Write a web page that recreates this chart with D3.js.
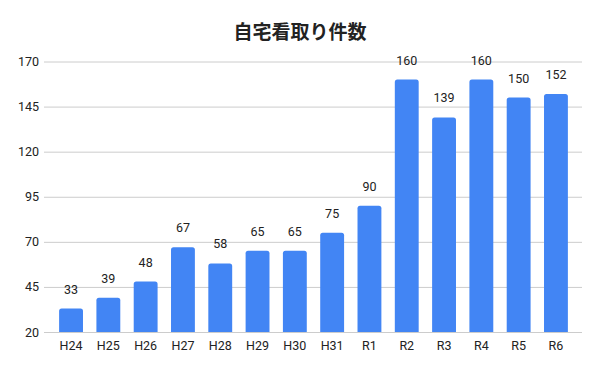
<!DOCTYPE html>
<html>
<head>
<meta charset="utf-8">
<script src="https://cdn.jsdelivr.net/npm/d3@7"></script>
<style>
  body { margin: 0; background: #fff; }
  text { font-family: Roboto, "Noto Sans", sans-serif; }
</style>
</head>
<body>
<script>
// data
var categories = ["H24", "H25", "H26", "H27", "H28", "H29", "H30", "H31", "R1", "R2", "R3", "R4", "R5", "R6"];
var values = [33, 39, 48, 67, 58, 65, 65, 75, 90, 160, 139, 160, 150, 152];
var yTicks = [20, 45, 70, 95, 120, 145, 170];
var title = "自宅看取り件数";

var width = 600, height = 371;
var plot = {left: 44, right: 582, top: 61.5, bottom: 332};

var svg = d3.select("body").append("svg")
    .attr("width", width)
    .attr("height", height);

// scales
var x = d3.scaleBand()
    .domain(categories)
    .range([52.4, 574.6])
    .paddingInner(0.36)
    .paddingOuter(0.18);

var y = d3.scaleLinear()
    .domain([20, 170])
    .range([plot.bottom, plot.top]);

// title
svg.append("text")
    .attr("x", 300)
    .attr("y", 39)
    .attr("text-anchor", "middle")
    .style("font-family", "'Noto Sans CJK JP', sans-serif")
    .style("font-size", "19px")
    .style("font-weight", "bold")
    .style("fill", "#222")
    .text(title);

// gridlines + y labels
var yAxis = svg.append("g")
    .attr("transform", "translate(" + plot.left + ",0)")
    .call(d3.axisLeft(y).tickValues(yTicks).tickSize(-(plot.right - plot.left)).tickPadding(5));
yAxis.select(".domain").remove();
yAxis.selectAll(".tick line").attr("stroke", "#ccc");
yAxis.selectAll(".tick text")
    .style("font-size", "12.5px")
    .style("fill", "#222");

// bars, rounded top corners
var r = 2.5;
svg.append("g").selectAll("path")
    .data(values)
    .enter().append("path")
    .attr("fill", "#4285f4")
    .attr("d", function(d, i) {
        var x0 = x(categories[i]), w = x.bandwidth();
        var y0 = y(d), y1 = y(20);
        return "M" + x0 + "," + y1 +
            "V" + (y0 + r) +
            "Q" + x0 + "," + y0 + " " + (x0 + r) + "," + y0 +
            "H" + (x0 + w - r) +
            "Q" + (x0 + w) + "," + y0 + " " + (x0 + w) + "," + (y0 + r) +
            "V" + y1 + "Z";
    });

// value labels
svg.append("g").selectAll("text")
    .data(values)
    .enter().append("text")
    .attr("x", function(d, i) { return x(categories[i]) + x.bandwidth() / 2; })
    .attr("y", function(d) { return y(d) - 15; })
    .attr("text-anchor", "middle")
    .style("font-size", "12.5px")
    .style("fill", "#222")
    .text(function(d) { return d; });

// x axis labels
var xAxis = svg.append("g")
    .attr("transform", "translate(0," + plot.bottom + ")")
    .call(d3.axisBottom(x).tickSize(0).tickPadding(9));
xAxis.select(".domain").remove();
xAxis.selectAll(".tick text")
    .style("font-size", "12.5px")
    .style("fill", "#222");
</script>
</body>
</html>
